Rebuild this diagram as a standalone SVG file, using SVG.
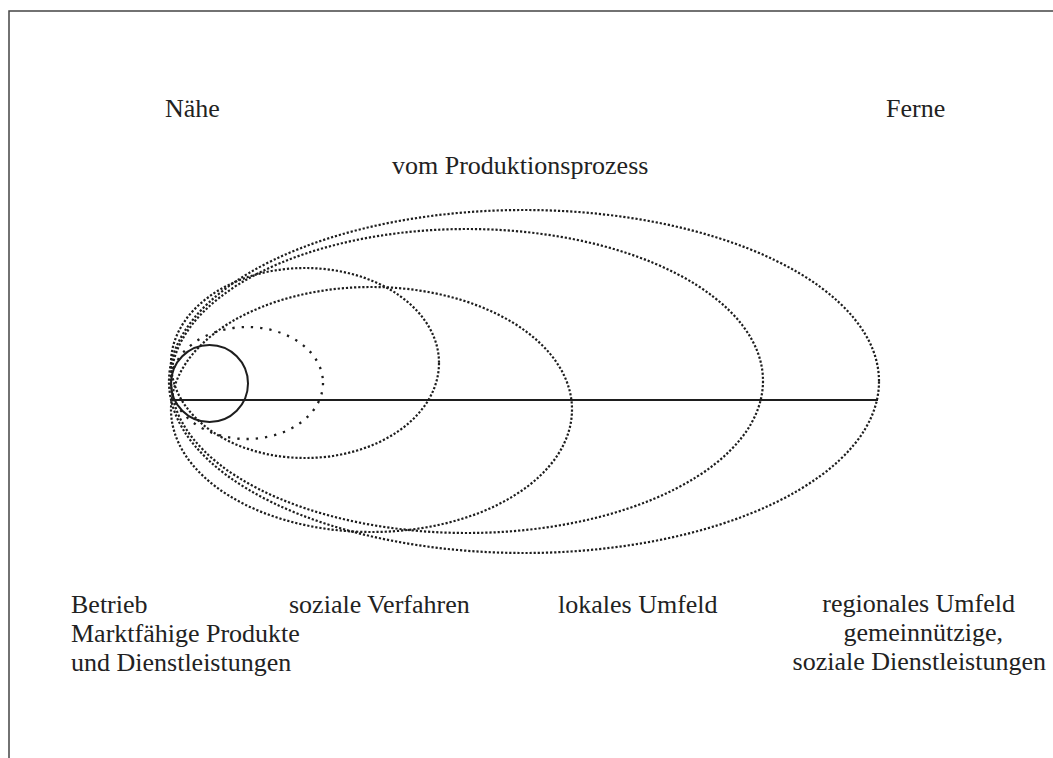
<svg xmlns="http://www.w3.org/2000/svg" width="1053" height="758" viewBox="0 0 1053 758">
<style>
.t{font-family:"Liberation Serif","Times New Roman",serif;font-size:26px;fill:#222}
.e{text-anchor:end}
.dot{fill:none;stroke:#1e1e1e;stroke-width:2.2;stroke-dasharray:2.2 1.9}
.dotw{fill:none;stroke:#1e1e1e;stroke-width:2.3;stroke-dasharray:2.3 7}
.solid{fill:none;stroke:#1e1e1e;stroke-width:2}
</style>
<rect width="1053" height="758" fill="#fff"/>
<g id="frame"><path d="M9 758 V11 H1053" fill="none" stroke="#444" stroke-width="1.5"/></g>
<g id="labels-top">
<text class="t" x="165" y="117">Nähe</text>
<text class="t" x="886" y="117">Ferne</text>
<text class="t" x="392" y="174">vom Produktionsprozess</text>
</g>
<g id="connectors">
<line class="solid" x1="172" y1="400" x2="878" y2="400"/>
</g>
<g id="node-regional"><ellipse class="dot" cx="524" cy="381.5" rx="355" ry="171.5"/></g>
<g id="node-lokal"><ellipse class="dot" cx="467" cy="381" rx="296" ry="152"/></g>
<g id="node-sozial"><ellipse class="dot" cx="371.5" cy="409.5" rx="200.5" ry="122.5"/></g>
<g id="node-b"><ellipse class="dot" cx="305" cy="363" rx="134" ry="95"/></g>
<g id="node-a"><ellipse class="dotw" cx="247" cy="383" rx="76" ry="56"/></g>
<g id="node-betrieb"><circle class="solid" cx="209.5" cy="383.5" r="38.5"/></g>
<g id="labels-bottom">
<text class="t" x="71" y="613">Betrieb</text>
<text class="t" x="71" y="642">Marktfähige Produkte</text>
<text class="t" x="71" y="671">und Dienstleistungen</text>
<text class="t" x="289" y="613">soziale Verfahren</text>
<text class="t" x="558" y="613">lokales Umfeld</text>
<text class="t e" x="1015" y="612">regionales Umfeld</text>
<text class="t e" x="1003" y="641">gemeinnützige,</text>
<text class="t e" x="1046" y="670">soziale Dienstleistungen</text>
</g>
</svg>
